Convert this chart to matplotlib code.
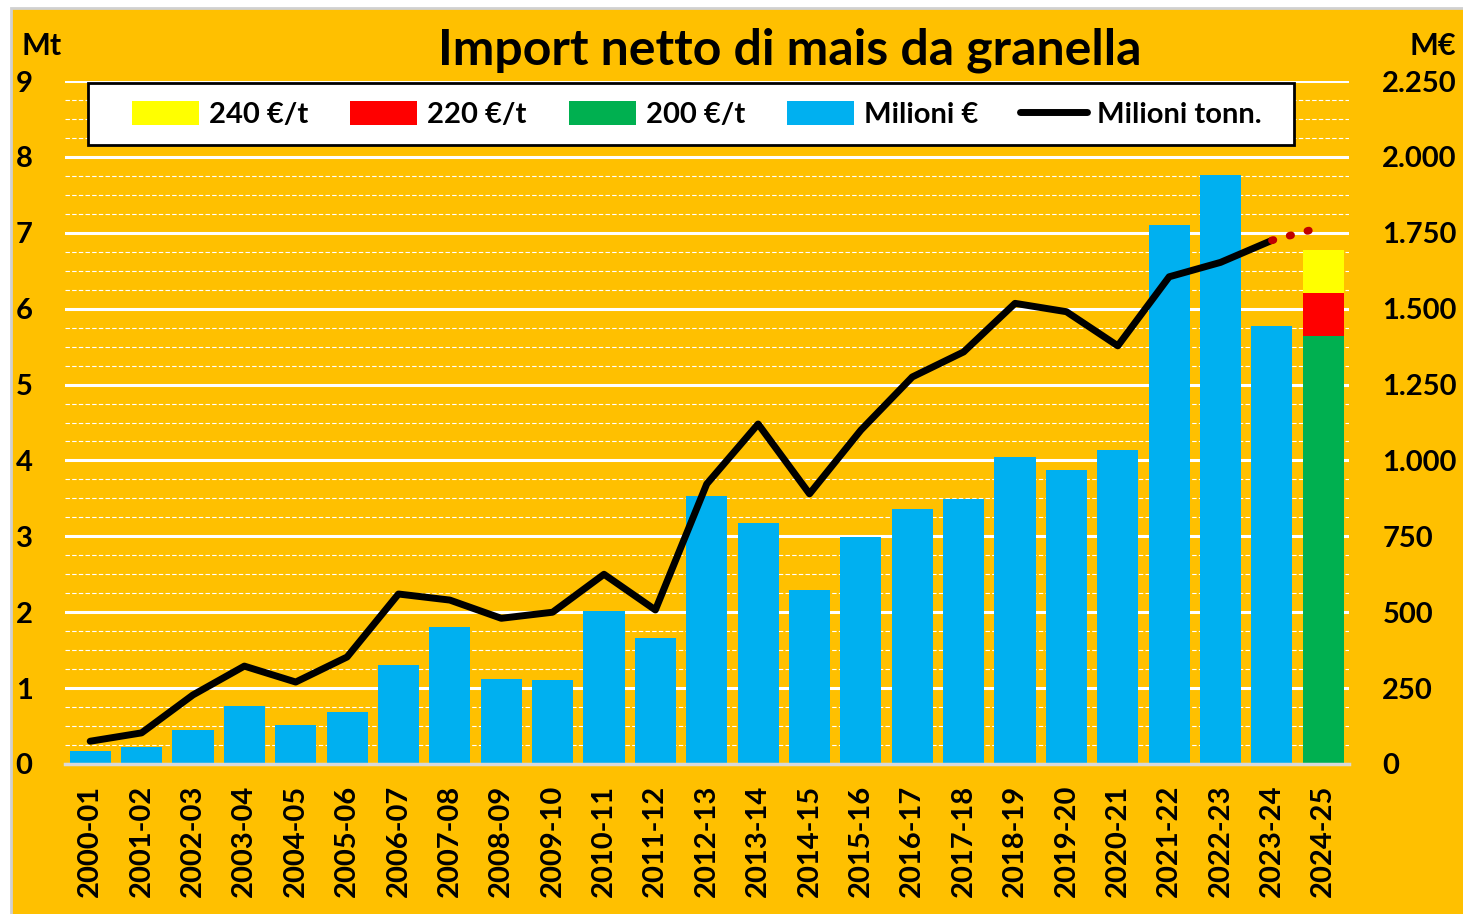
import matplotlib.pyplot as plt
from matplotlib.patches import Rectangle
from matplotlib.ticker import MultipleLocator
import numpy as np

plt.rcParams['font.family'] = ['Lato', 'DejaVu Sans']
plt.rcParams['font.weight'] = 'bold'

# campagne di commercializzazione
seasons = ['2000-01', '2001-02', '2002-03', '2003-04', '2004-05', '2005-06',
           '2006-07', '2007-08', '2008-09', '2009-10', '2010-11', '2011-12',
           '2012-13', '2013-14', '2014-15', '2015-16', '2016-17', '2017-18',
           '2018-19', '2019-20', '2020-21', '2021-22', '2022-23', '2023-24',
           '2024-25']

# valore import netto, milioni di euro (ultima campagna a parte)
mil_euro = [43, 56, 112, 191, 128, 171, 326, 451, 280, 277, 504, 415,
            883, 794, 573, 748, 840, 873, 1011, 968, 1034, 1775, 1940, 1443]

# stima 2024-25 a 200, 220 e 240 euro/t (strati)
stima_200 = 1410
stima_220 = 141
stima_240 = 141

# import netto, milioni di tonnellate
mil_tonn = [0.30, 0.41, 0.91, 1.29, 1.08, 1.41, 2.24, 2.16, 1.92, 2.00,
            2.50, 2.03, 3.69, 4.48, 3.56, 4.40, 5.10, 5.43, 6.07, 5.96,
            5.51, 6.42, 6.61, 6.90]
stima_tonn = 7.08

mt_ticks = [0, 1, 2, 3, 4, 5, 6, 7, 8, 9]
meur_ticks = [0, 250, 500, 750, 1000, 1250, 1500, 1750, 2000, 2250]
meur_labels = ['0', '250', '500', '750', '1.000', '1.250', '1.500',
               '1.750', '2.000', '2.250']

orange = '#FFC000'
blue = '#00B0F0'
green = '#00B050'

fig = plt.figure(figsize=(14.63, 9.14), dpi=100, facecolor='white')
fig.patches.append(Rectangle((11 / 1463, -0.01), 1.1, (914 - 8) / 914 + 0.01,
                             transform=fig.transFigure, facecolor=orange,
                             edgecolor='#D0D0D0', linewidth=2, zorder=-10))

ax = fig.add_axes([64.5 / 1463, 150 / 914, 1284.5 / 1463, 683 / 914])
ax.patch.set_alpha(0)

x = np.arange(len(seasons))
n = len(mil_euro)

b_blue = ax.bar(x[:n], mil_euro, width=0.8, color=blue, label='Milioni €')
b_green = ax.bar(x[n], stima_200, width=0.8, color=green, label='200 €/t')
b_red = ax.bar(x[n], stima_220, bottom=stima_200, width=0.8, color='red',
               label='220 €/t')
b_yellow = ax.bar(x[n], stima_240, bottom=stima_200 + stima_220, width=0.8,
                  color='yellow', label='240 €/t')

ax.set_xlim(-0.5, len(seasons) - 0.5)
ax.set_ylim(0, 2250)
ax.set_axisbelow(True)
ax.grid(axis='y', which='major', color='white', linewidth=2.2)
ax.grid(axis='y', which='minor', color='white', linewidth=0.8,
        linestyle=(0, (4, 2)))
ax.set_xticks(x)
ax.set_xticklabels(seasons, rotation=90, fontsize=21, fontweight='bold')
ax.tick_params(axis='x', length=0, pad=15)
for s in ['top', 'left', 'right']:
    ax.spines[s].set_visible(False)
ax.spines['bottom'].set_color('#D9D9D9')
ax.spines['bottom'].set_linewidth(2.5)

ax2 = ax.twinx()
ax2.set_ylim(0, 9)
ax2.set_yticks(mt_ticks)
ax2.yaxis.tick_left()
ax2.tick_params(axis='y', length=0, labelsize=21, pad=23)
for t in ax2.get_yticklabels():
    t.set_fontweight('bold')
for s in ax2.spines.values():
    s.set_visible(False)

# asse destro (M€) dopo twinx, che altrimenti lo riporta a sinistra
ax.yaxis.tick_right()
ax.set_yticks(meur_ticks)
ax.set_yticklabels(meur_labels)
ax.yaxis.set_minor_locator(MultipleLocator(62.5))
ax.tick_params(axis='y', which='both', length=0, labelsize=21, pad=24,
               left=False, labelleft=False, right=True, labelright=True)
for t in ax.get_yticklabels():
    t.set_fontweight('bold')
    t.set_horizontalalignment('left')

line, = ax2.plot(x[:n], mil_tonn, color='black', linewidth=5,
                 solid_joinstyle='round', solid_capstyle='round',
                 label='Milioni tonn.')
ax2.plot([x[n - 1], x[n]], [mil_tonn[-1], stima_tonn], color='#C00000',
         linewidth=5.5, linestyle=(0, (0.2, 2.2)), dash_capstyle='round')

# riquadro della legenda
ax2.add_patch(Rectangle((0.0183, 0.906), 0.9387, 0.091,
                        transform=ax2.transAxes, facecolor='white',
                        edgecolor='black', linewidth=2, zorder=4.5))

handles = [b_yellow, b_red, b_green, b_blue, line]
leg = ax2.legend(handles=handles, loc='center', ncol=5, mode='expand',
                 bbox_to_anchor=(0.0525, 0.906, 0.8797, 0.091),
                 fontsize=21, frameon=False, handlelength=2.3,
                 handleheight=0.9, handletextpad=0.35, borderaxespad=0,
                 borderpad=0)
leg.set_zorder(5)
for t in leg.get_texts():
    t.set_fontweight('bold')

fig.text(790 / 1463, 1 - 50 / 914, 'Import netto di mais da granella',
         ha='center', va='center', fontsize=36, fontweight='bold')
fig.text(21 / 1463, 1 - 46 / 914, 'Mt', ha='left', va='center',
         fontsize=22, fontweight='bold')
fig.text(1456 / 1463, 1 - 46 / 914, 'M€', ha='right', va='center',
         fontsize=22, fontweight='bold')

fig.savefig('out.png', dpi=100, facecolor=fig.get_facecolor())
